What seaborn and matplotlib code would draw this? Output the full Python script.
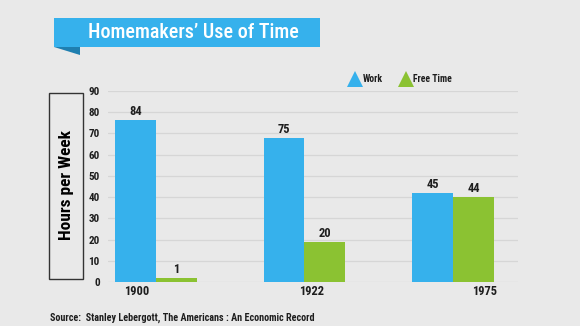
import matplotlib
matplotlib.use("Agg")
import matplotlib.pyplot as plt
from matplotlib.patches import Rectangle, Polygon
from matplotlib.lines import Line2D
from matplotlib.transforms import ScaledTranslation
from matplotlib import font_manager
import seaborn as sns
import pandas as pd

# ---- data (bar heights as drawn against the axis, and the printed labels) ----
years = ["1900", "1922", "1975"]
series = ["Work", "Free Time"]
work_heights = [76.5, 68.0, 42.0]
free_heights = [2.0, 19.0, 40.0]
work_labels = ["84", "75", "45"]
free_labels = ["1", "20", "44"]
y_ticks = [0, 10, 20, 30, 40, 50, 60, 70, 80, 90]
title = "Homemakers\u2019 Use of Time"
y_title = "Hours per Week"
source = "Source:  Stanley Lebergott, The Americans : An Economic Record"

BG = "#e9e9e9"
BLUE = "#36b1ec"
GREEN = "#8bc232"
DARK_BLUE = "#1f7fb0"
TXT = "#1e1e1e"

sns.set_theme(style="white")
names = {f.name for f in font_manager.fontManager.ttflist}
fam = ["DejaVu Sans"]
for cand in ["Liberation Sans Narrow", "Roboto Condensed", "Open Sans Condensed", "DejaVu Sans Condensed"]:
    if cand in names:
        fam = [cand, "DejaVu Sans"]
        break
plt.rcParams["font.family"] = fam
plt.rcParams["font.stretch"] = "condensed"

df = pd.DataFrame({
    "year": years * 2,
    "series": [series[0]] * 3 + [series[1]] * 3,
    "hours": work_heights + free_heights,
})

fig = plt.figure(figsize=(5.8, 3.26), dpi=100, facecolor=BG)
W, H = 580, 326
ax = fig.add_axes([108 / W, 1 - 282 / H, 410 / W, 191 / H])
ax.set_facecolor(BG)

sns.barplot(data=df, x="year", y="hours", hue="series", palette=[BLUE, GREEN],
            width=0.55, gap=0, saturation=1, linewidth=0, legend=False, ax=ax)

ax.set_ylim(0, 90)
ax.set_xlim(-0.323, 2.438)
ax.set_yticks(y_ticks, labels=[str(v) for v in y_ticks], fontweight="bold")
ax.yaxis.grid(True, color="#d6d6d6", linewidth=0.9)
ax.set_axisbelow(True)
for s in ax.spines.values():
    s.set_visible(False)
ax.tick_params(axis="both", length=0, labelsize=8, labelcolor=TXT)
ax.tick_params(axis="y", pad=6)
ax.tick_params(axis="x", pad=2.5)
ax.set_xlabel("")
ax.set_ylabel("")

offsets_px = [-19, 7, 32]
for lab, dx in zip(ax.get_xticklabels(), offsets_px):
    lab.set_fontsize(9)
    lab.set_fontweight("bold")
    lab.set_transform(lab.get_transform() + ScaledTranslation(dx / 100, 0, fig.dpi_scale_trans))

ax.bar_label(ax.containers[0], labels=work_labels, padding=1.5, fontsize=9,
             fontweight="bold", color=TXT)
ax.bar_label(ax.containers[1], labels=free_labels, padding=1.5, fontsize=9,
             fontweight="bold", color=TXT)

handles = [Line2D([], [], marker="^", linestyle="none", markersize=11,
                  markerfacecolor=c, markeredgewidth=0) for c in (BLUE, GREEN)]
leg = fig.legend(handles, series, loc="center left", bbox_to_anchor=(338 / W, 1 - 79 / H),
                 ncol=2, frameon=False, fontsize=7, handletextpad=0.0,
                 columnspacing=1.6, handlelength=1.6)
for t in leg.get_texts():
    t.set_fontweight("bold")
    t.set_color(TXT)

fig.patches.append(Polygon([[54 / W, 1 - 47 / H], [80 / W, 1 - 47 / H], [80 / W, 1 - 55 / H]],
                           closed=True, transform=fig.transFigure, facecolor=DARK_BLUE,
                           edgecolor="none"))
fig.patches.append(Rectangle((54 / W, 1 - 47 / H), 266 / W, 29 / H, transform=fig.transFigure,
                             facecolor=BLUE, edgecolor="none"))
fig.text(193 / W, 1 - 33 / H, title, color="white", fontsize=14.5, fontweight="medium",
         ha="center", va="center")

fig.patches.append(Rectangle((49 / W, 1 - 279 / H), 34 / W, 186 / H, transform=fig.transFigure,
                             facecolor="none", edgecolor="#333333", linewidth=1.0))
fig.text(66 / W, 1 - 185 / H, y_title, rotation=90, color="black", fontsize=12.5,
         fontweight="bold", ha="center", va="center")

fig.text(50 / W, 1 - 318 / H, source, color=TXT, fontsize=7.3, fontweight="bold",
         ha="left", va="center")

fig.savefig("out.png", dpi=100, facecolor=BG)
